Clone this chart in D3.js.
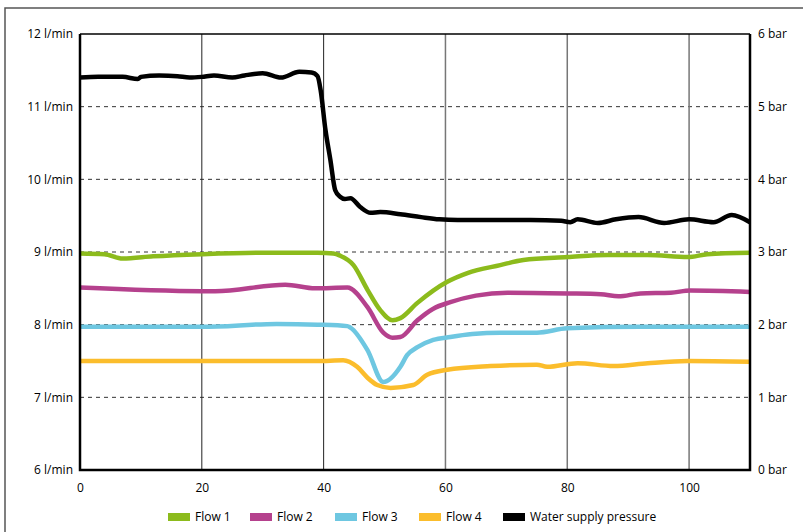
<!DOCTYPE html>
<html>
<head>
<meta charset="utf-8">
<script src="https://cdn.jsdelivr.net/npm/d3@7"></script>
<style>
  body { margin: 0; background: #fff; }
  svg { font-family: "Open Sans", sans-serif; }
</style>
</head>
<body>
<svg id="chart" width="803" height="532"></svg>
<script>
// values: [x, value]
const flow1 = [[0, 8.98], [4, 8.97], [7, 8.91], [12, 8.94], [20, 8.97], [30, 8.99], [39, 8.99], [41.6, 8.98],
  [42.7, 8.95], [44.9, 8.82], [47.2, 8.48], [49.3, 8.2], [51.3, 8.06], [52.6, 8.09], [55.4, 8.3], [60.3, 8.59],
  [63.6, 8.71], [69, 8.82], [72.8, 8.89], [80, 8.93], [86.6, 8.96], [93.2, 8.96], [99.8, 8.93], [103, 8.97], [110, 8.99]];
const flow2 = [[0, 8.51], [20, 8.46], [22.2, 8.46], [33.7, 8.55], [38.6, 8.5], [43.9, 8.51], [47.2, 8.24], [49.8, 7.89],
  [51.3, 7.82], [52.6, 7.83], [55.4, 8.06], [58, 8.22], [60.8, 8.31], [65, 8.4], [70.2, 8.44], [80, 8.43], [85.5, 8.42],
  [88.4, 8.39], [92, 8.43], [97, 8.44], [100.2, 8.47], [110, 8.45]];
const flow3 = [[0, 7.97], [20, 7.97], [32.3, 8.01], [39, 8.0], [43.9, 7.98], [44.4, 7.96], [47.2, 7.65], [49.8, 7.21],
  [52.6, 7.42], [53.7, 7.58], [55.4, 7.69], [58, 7.79], [60.8, 7.83], [64.4, 7.87], [69, 7.89], [75, 7.89],
  [80, 7.95], [92, 7.97], [110, 7.97]];
const flow4 = [[0, 7.5], [39, 7.5], [43.2, 7.51], [45.5, 7.42], [47.2, 7.27], [48.8, 7.17], [51, 7.13], [54.7, 7.17],
  [57, 7.31], [60.3, 7.38], [67.4, 7.43], [75, 7.45], [76.7, 7.42], [81.7, 7.47], [87.6, 7.43], [93.2, 7.47],
  [99.8, 7.5], [110, 7.49]];
const pressure = [[0, 5.4], [3, 5.41], [7, 5.41], [9.5, 5.38], [10, 5.41], [13, 5.43], [16, 5.42], [18, 5.4],
  [20, 5.41], [22, 5.43], [25, 5.4], [27, 5.43], [30, 5.46], [33, 5.4], [36, 5.48], [38, 5.47], [39, 5.42],
  [39.5, 5.23], [40.3, 4.68], [41.1, 4.27], [41.9, 3.85], [42.7, 3.76], [43.5, 3.73], [44.4, 3.74], [46, 3.62],
  [47.7, 3.54], [49.3, 3.55], [52.6, 3.52], [56, 3.48], [59, 3.45], [62, 3.44], [66, 3.44], [74, 3.44], [79, 3.43],
  [80.5, 3.41], [81.7, 3.45], [85, 3.4], [88, 3.45], [91.7, 3.48], [95.9, 3.4], [100, 3.45], [104, 3.41],
  [107, 3.51], [110, 3.41]];

const xTicks = [0, 20, 40, 60, 80, 100];
const flowTicks = [6, 7, 8, 9, 10, 11, 12];
const barTicks = [0, 1, 2, 3, 4, 5, 6];
const seriesNames = ["Flow 1", "Flow 2", "Flow 3", "Flow 4", "Water supply pressure"];
const seriesColors = ["#8cbb1c", "#b5418d", "#6ec7e1", "#fbbd2c", "#000000"];

const margin = { top: 34, right: 53, bottom: 62, left: 80 };
const width = 803 - margin.left - margin.right;
const height = 532 - margin.top - margin.bottom;

const svg = d3.select("#chart");

// outer frame
svg.append("path")
  .attr("d", "M5,540 L5,8 L810,8")
  .attr("fill", "none")
  .attr("stroke", "#555")
  .attr("stroke-width", 1.5);

const g = svg.append("g").attr("transform", `translate(${margin.left},${margin.top})`);

const x = d3.scaleLinear().domain([0, 110]).range([0, width]);
const y = d3.scaleLinear().domain([6, 12]).range([height, 0]);
const yBar = d3.scaleLinear().domain([0, 6]).range([height, 0]);

// horizontal dashed grid
g.selectAll(".hgrid")
  .data(flowTicks.slice(1, -1))
  .enter().append("line")
  .attr("x1", 0).attr("x2", width)
  .attr("y1", d => y(d)).attr("y2", d => y(d))
  .attr("stroke", "#333")
  .attr("stroke-width", 1)
  .attr("stroke-dasharray", "4,4");

// vertical grid
g.selectAll(".vgrid")
  .data(xTicks.slice(1))
  .enter().append("line")
  .attr("x1", d => x(d)).attr("x2", d => x(d))
  .attr("y1", 0).attr("y2", height)
  .attr("stroke", d => d <= 40 ? "#222" : "#777")
  .attr("stroke-width", d => d <= 40 ? 1 : 1.5);

const line = d3.line().curve(d3.curveMonotoneX).x(d => x(d[0]));

const flows = [flow1, flow2, flow3, flow4];
flows.forEach((data, i) => {
  g.append("path")
    .datum(data)
    .attr("fill", "none")
    .attr("stroke", seriesColors[i])
    .attr("stroke-width", 4.5)
    .attr("stroke-linejoin", "round")
    .attr("d", line.y(d => y(d[1])));
});

g.append("path")
  .datum(pressure)
  .attr("fill", "none")
  .attr("stroke", seriesColors[4])
  .attr("stroke-width", 4.5)
  .attr("stroke-linejoin", "round")
  .attr("d", line.y(d => yBar(d[1])));

// plot box
g.append("path")
  .attr("d", `M0,0 L${width},0`)
  .attr("stroke", "#000").attr("stroke-width", 1.5);
g.append("path")
  .attr("d", `M0,0 L0,${height} L${width},${height} L${width},0`)
  .attr("fill", "none")
  .attr("stroke", "#000").attr("stroke-width", 2.5);

// axes
const leftAxis = g.append("g")
  .call(d3.axisLeft(y).tickValues(flowTicks).tickSize(0).tickPadding(7).tickFormat(d => d + " l/min"));
const rightAxis = g.append("g")
  .attr("transform", `translate(${width},0)`)
  .call(d3.axisRight(yBar).tickValues(barTicks).tickSize(0).tickPadding(8).tickFormat(d => d + " bar"));
const bottomAxis = g.append("g")
  .attr("transform", `translate(0,${height})`)
  .call(d3.axisBottom(x).tickValues(xTicks).tickSize(0).tickPadding(13));

[leftAxis, rightAxis, bottomAxis].forEach(a => {
  a.select(".domain").remove();
  a.selectAll("text").attr("font-size", 12).attr("fill", "#000").attr("font-family", "Open Sans, sans-serif");
});

// legend
const legendX = [168, 250, 335, 419, 503];
const legend = svg.append("g").attr("transform", "translate(0,517)");
seriesNames.forEach((name, i) => {
  legend.append("rect")
    .attr("x", legendX[i]).attr("y", -4)
    .attr("width", 22).attr("height", 8)
    .attr("fill", seriesColors[i]);
  legend.append("text")
    .attr("x", legendX[i] + 27).attr("y", 4)
    .attr("font-size", 12)
    .attr("fill", "#000")
    .text(name);
});
</script>
</body>
</html>
